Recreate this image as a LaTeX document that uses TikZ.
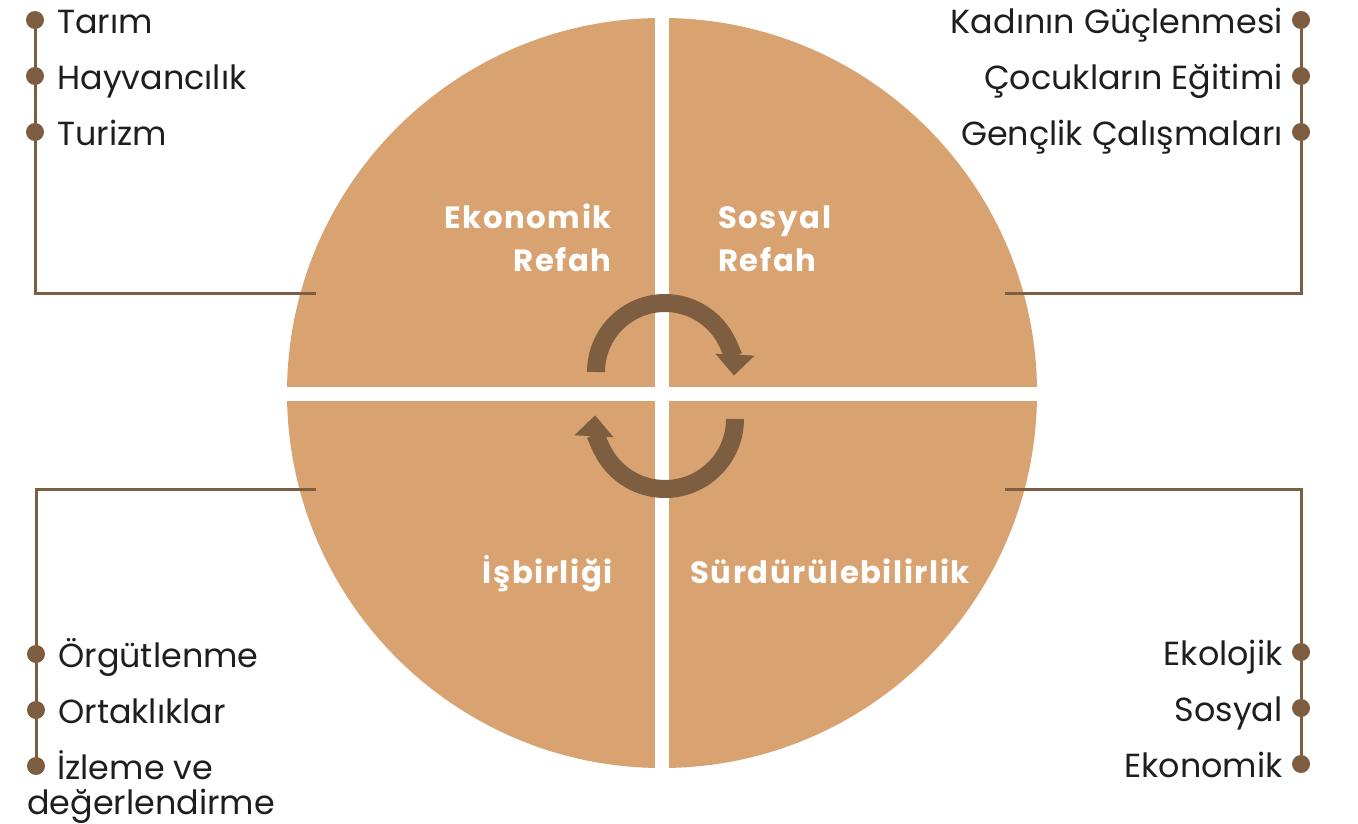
\documentclass[tikz,border=0pt]{standalone}
\usepackage{fontspec}
\setmainfont{Poppins}
\newfontfamily\wheelfont[LetterSpace=5]{Poppins}
\usetikzlibrary{arrows.meta,positioning}

\definecolor{wedgefill}{HTML}{D9A271}
\definecolor{barkbrown}{HTML}{7E5E40}
\definecolor{inktext}{HTML}{1E1E1E}

\tikzset{
  dot/.style={circle,fill=barkbrown,inner sep=0pt,minimum size=0.36cm},
  conn/.style={barkbrown,line width=0.06cm},
  item/.style={inner sep=0pt,text=inktext,font=\fontsize{19}{19.9}\selectfont},
  litem/.style={item,anchor=base west,xshift=0.44cm,yshift=-0.27cm},
  ritem/.style={item,anchor=base east,xshift=-0.36cm,yshift=-0.27cm},
  quarter/.style={inner sep=0pt,text=white,font=\wheelfont\bfseries\fontsize{17.5}{24.4}\selectfont},
  turnarrow/.style={barkbrown,line width=0.36cm,-{Triangle[width=0.76cm,length=0.42cm]}},
}

\begin{document}
\begin{tikzpicture}[x=0.02cm,y=-0.02cm]
  \useasboundingbox (0,0) rectangle (1358,824);

  % the wheel
  \fill[wedgefill] (662,393) circle[radius=375];
  \fill[white] (655,10) rectangle (669,776);
  \fill[white] (280,387) rectangle (1044,401);

  \node[quarter,align=right,anchor=base east] (ekonomik) at (612,271) {Ekonomik\\Refah};
  \node[quarter,align=left,anchor=base west] (sosyal) at (718,271) {Sosyal\\Refah};
  \node[quarter,anchor=base east] (isbirligi) at (613,583) {İşbirliği};
  \node[quarter,anchor=base west] (surdur) at (690,583) {Sürdürülebilirlik};

  \draw[turnarrow] (596,372) arc[start angle=180,end angle=363,radius=69];
  \draw[turnarrow] (735,419) arc[start angle=0,end angle=183,radius=70];

  % ends of the leader lines on the wheel
  \coordinate (ekonomikend) at (316,293);
  \coordinate (sosyalend) at (1005,293);
  \coordinate (isbirligiend) at (316,489);
  \coordinate (surdurend) at (1005,489);

  % top left
  \node[dot] (tarim) at (35,20) {};
  \node[dot] (hayvan) at (35,76) {};
  \node[dot] (turizm) at (35,132) {};
  \node[litem] at (tarim) {Tarım};
  \node[litem] at (hayvan) {Hayvancılık};
  \node[litem] at (turizm) {Turizm};
  \draw[conn] (ekonomikend) -| (tarim.center);

  % top right
  \node[dot] (kadin) at (1301,20) {};
  \node[dot] (cocuk) at (1301,76) {};
  \node[dot] (genclik) at (1301,132) {};
  \node[ritem] at (kadin) {Kadının Güçlenmesi};
  \node[ritem] at (cocuk) {Çocukların Eğitimi};
  \node[ritem] at (genclik) {Gençlik Çalışmaları};
  \draw[conn] (sosyalend) -| (kadin.center);

  % bottom left
  \node[dot] (orgut) at (36,654) {};
  \node[dot] (ortak) at (36,710) {};
  \node[dot] (izleme) at (36,766) {};
  \node[litem] at (orgut) {Örgütlenme};
  \node[litem] at (ortak) {Ortaklıklar};
  \node[litem,align=left,xshift=-0.62cm,yshift=-0.7cm,font=\fontsize{19}{19.9}\selectfont] at (izleme) {\hspace*{0.6cm}İzleme ve\\değerlendirme};
  \draw[conn] (isbirligiend) -| (izleme.center);

  % bottom right
  \node[dot] (ekoloji) at (1301,652) {};
  \node[dot] (sosyalsur) at (1301,708) {};
  \node[dot] (ekonsur) at (1301,764) {};
  \node[ritem] at (ekoloji) {Ekolojik};
  \node[ritem] at (sosyalsur) {Sosyal};
  \node[ritem] at (ekonsur) {Ekonomik};
  \draw[conn] (surdurend) -| (ekonsur.center);
\end{tikzpicture}
\end{document}
